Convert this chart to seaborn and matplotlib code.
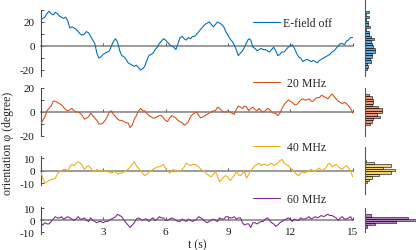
import numpy as np
import pandas as pd
import matplotlib
matplotlib.use("Agg")
import matplotlib.pyplot as plt
import seaborn as sns

# ---------------- data ----------------
t_step = 0.1  # s between samples

e_off = [22, 23, 24, 27, 29, 27, 26, 28, 27, 25, 24, 23, 24, 21, 15, 16, 15, 14, 12, 10,
         9, 10, 12, 11, 8, 5, 2, -6, -10, -9, -7, -6, -5, -4, 0, 4, 6, 3, -4, -8,
         -9, -11, -14, -15, -16, -17, -16, -18, -20, -19, -17, -12, -8, -7, -6, -3, -1, 2, 4, 6,
         5, 3, 1, 0, -1, -3, 2, 7, 8, 6, 5, 7, 6, 8, 8, 10, 12, 14, 16, 18,
         19, 20, 18, 16, 18, 20, 19, 18, 16, 12, 9, 6, 4, 1, -3, -8, -6, -4, -1, 3,
         6, 5, -1, -2, -4, -3, -2, -3, -3, -4, -5, -3, -1, -4, -8, -7, -5, -5, -3, -1,
         0, 1, -2, -6, -9, -10, -13, -12, -11, -12, -13, -12, -13, -14, -12, -11, -10, -9, -8, -7,
         -5, -4, -2, 0, 2, 2, 1, 4, 5, 7, 7]

mhz20 = [-10, -7, -4, 1, 3, 5, 9, 9, 8, 7, 6, 4, 2, 1, 2, 3, 1, 0, 0, -1,
         -3, -6, -5, -4, -1, -3, -5, -7, -10, -10, -9, -7, -4, 0, 1, -2, -4, -6, -7, -7,
         -8, -9, -9, -13, -11, -6, -3, 1, 3, 1, 1, -1, -3, -4, -5, -5, -4, -3, -3, -5,
         -7, -8, -5, -3, -4, -5, -7, -8, -9, -11, -10, -8, -4, -2, -1, 0, -3, -5, -4, -3,
         -2, -1, 0, 1, 1, 4, 3, 1, 0, 0, 1, 0, -1, -2, 2, 5, 4, 3, 5, 4,
         1, 3, 4, 2, 1, 3, 1, 0, 1, 3, 2, 0, -1, -1, -3, -1, 3, 6, 8, 10,
         9, 8, 6, 6, 8, 10, 11, 10, 10, 11, 9, 9, 11, 12, 12, 14, 13, 12, 11, 13,
         15, 13, 11, 9, 8, 7, 8, 7, 5, 3, -1]

mhz40 = [-1, -6, -10, -9, -8, -7, -7, -6, -3, -1, 0, 1, 1, 0, 3, 5, 4, 6, 7, 6,
         4, 1, 3, 4, 2, 0, -1, 1, 0, -1, 0, 0, -1, -1, -2, -1, -1, -3, -2, -2,
         -1, 0, 1, 3, 5, 7, 4, 2, 0, -2, -4, -3, -1, 0, 1, 2, 3, 3, 4, 5,
         2, 0, -2, 0, 1, -1, 0, -1, 1, 3, 6, 5, 4, 5, 5, 4, 3, 1, 0, -1,
         -3, -4, -5, -3, -1, -4, -9, -7, -5, -4, -5, -8, -6, -4, -1, -3, -4, -2, -1, -6,
         -3, 0, 2, 4, 5, 6, 4, 5, 5, 4, 5, 6, 4, 5, 6, 8, 9, 6, 5, 4,
         2, 1, -1, -3, -4, -2, -1, -2, -1, 0, 1, 0, -1, 1, 2, 0, 1, 2, 5, 6,
         3, 4, 5, 3, 2, 1, 3, 4, 2, 0, -5]

mhz60 = [-2, -4, -2, -3, -3, -1, 1, 3, 2, 2, 3, 1, 2, 3, 2, 1, 0, 1, 3, 1,
         1, 2, 0, -1, 2, 0, -1, -2, -1, -1, -2, -1, -1, 0, 1, 2, 3, 5, 4, 3,
         0, -2, -4, -6, -4, -2, 1, 2, 1, 0, 1, 1, -1, 1, 2, 0, 1, 3, 2, 2,
         0, 0, 1, 2, 1, 0, -1, -1, 1, 0, -1, 1, 0, -1, 0, 1, 3, 2, 1, -1,
         -2, -1, 0, 1, 0, -1, 2, 1, 1, 3, 3, 2, 2, 3, 1, 2, 2, -2, -4, -3,
         -3, -6, -2, -2, -3, -2, -1, -1, 1, 2, 0, -2, -3, -5, -4, -2, -1, 0, 1, 2,
         1, -1, 1, 0, 0, 2, 1, 1, 2, 3, 1, 2, 3, 2, 3, 4, 3, 4, 5, 4,
         4, 3, 2, 0, 2, 3, 1, 1, 2, 3, 0]

series_labels = ["E-field off", "20 MHz", "40 MHz", "60 MHz"]
series_values = [e_off, mhz20, mhz40, mhz60]
series_colors = ["#0072BD", "#D95319", "#EDB120", "#7E2F8E"]
x_ticks = [3, 6, 9, 12, 15]
y_major = [[-20, 0, 20], [-20, 0, 20], [-10, 0, 10], [-10, 0, 10]]
y_minor = [[-10, 10, 30], [-10, 10], [], []]

# ---------------- styling ----------------
sns.set_theme(style="white")
plt.rcParams["font.family"] = ["Liberation Serif", "DejaVu Serif"]
plt.rcParams["axes.unicode_minus"] = False
plt.rcParams["font.size"] = 8

W, H = 416, 251
fig = plt.figure(figsize=(W / 100, H / 100), dpi=100)


def rect(x0, x1, top, bot):
    return [x0 / W, 1 - bot / H, (x1 - x0) / W, (bot - top) / H]


# layout in pixels: (top, bottom, ylim)
line_layout = [(11, 77, (-25, 30)), (89, 137, (-20, 20)),
               (157.3, 186, (-11.5, 11.5)), (207.5, 235.1, (-11.5, 11.5))]
hist_layout = [(0, 77, (-25, 38.9)), (89, 137, (-20, 20)),
               (148, 195, (-18.6, 19)), (209, 233, (-9.75, 10.25))]
legend_y = [24, 84, 148, 200]
legend_pad = [0.25, 0.65, 0.65, 0.65]

x_left, x_right = 40.7, 352.7
hx_left, hx_right = 364.5, 416

hist_axes = []
for i, (lab, vals, col) in enumerate(zip(series_labels, series_values, series_colors)):
    top, bot, ylim = line_layout[i]
    ax = fig.add_axes(rect(x_left, x_right, top, bot))
    df = pd.DataFrame({"t": np.arange(len(vals)) * t_step, "phi": vals})
    sns.lineplot(data=df, x="t", y="phi", ax=ax, color=col, lw=0.8, label=lab, zorder=3)
    ax.set_xlim(0, 15)
    ax.set_ylim(*ylim)
    ax.set_xlabel("")
    ax.set_ylabel("")
    for s in ["top", "right"]:
        ax.spines[s].set_visible(False)
    ax.spines["bottom"].set_position(("data", 0))
    ax.spines["bottom"].set_color("0.5")
    ax.spines["bottom"].set_linewidth(1.1)
    ax.spines["bottom"].set_zorder(1.5)
    ax.spines["left"].set_color("0.3")
    ax.spines["left"].set_linewidth(0.8)
    ax.set_yticks(y_major[i])
    ax.set_yticks(y_minor[i], minor=True)
    ax.set_xticks(x_ticks)
    ax.tick_params(axis="both", which="both", direction="in", length=2.5, width=0.7,
                   color="0.3", labelsize=8, colors="0.1")
    ax.tick_params(axis="y", which="both", pad=4.3, left=True)
    ax.tick_params(axis="x", which="both", pad=4.5, bottom=True)
    if i < 3:
        ax.tick_params(axis="x", labelbottom=False)
    ax.set_yticklabels([str(v) for v in y_major[i]])
    ax.patch.set_alpha(0)
    ax.legend(loc="center left", bbox_to_anchor=(253 / W, 1 - legend_y[i] / H),
              bbox_transform=fig.transFigure, frameon=False, borderpad=0,
              borderaxespad=0, handlelength=2.25, handletextpad=legend_pad[i],
              fontsize=8.5)

    htop, hbot, hylim = hist_layout[i]
    axh = fig.add_axes(rect(hx_left, hx_right, htop, hbot))
    sns.histplot(y=vals, ax=axh, binwidth=2, stat="density", color=col, alpha=0.6,
                 edgecolor="black", linewidth=0.4)
    axh.set_ylim(*hylim)
    axh.set_xlabel("")
    axh.set_ylabel("")
    axh.set_xticks([])
    axh.set_yticks([])
    for s in ["top", "right", "bottom"]:
        axh.spines[s].set_visible(False)
    axh.spines["left"].set_color("0.35")
    axh.spines["left"].set_linewidth(0.8)
    axh.patch.set_alpha(0)
    hist_axes.append(axh)

# common density scale for the histograms
xmax = max(p.get_width() for p in hist_axes[-1].patches)
for axh in hist_axes:
    axh.set_xlim(0, xmax)

fig.text(197 / W, 1 - 245 / H, "t (s)", ha="center", va="center", fontsize=8.5)
fig.text(8 / W, 1 - 143 / H, "orientation φ (degree)", ha="center", va="center",
         rotation=90, fontsize=8.5)

fig.savefig("out.png", dpi=100)
